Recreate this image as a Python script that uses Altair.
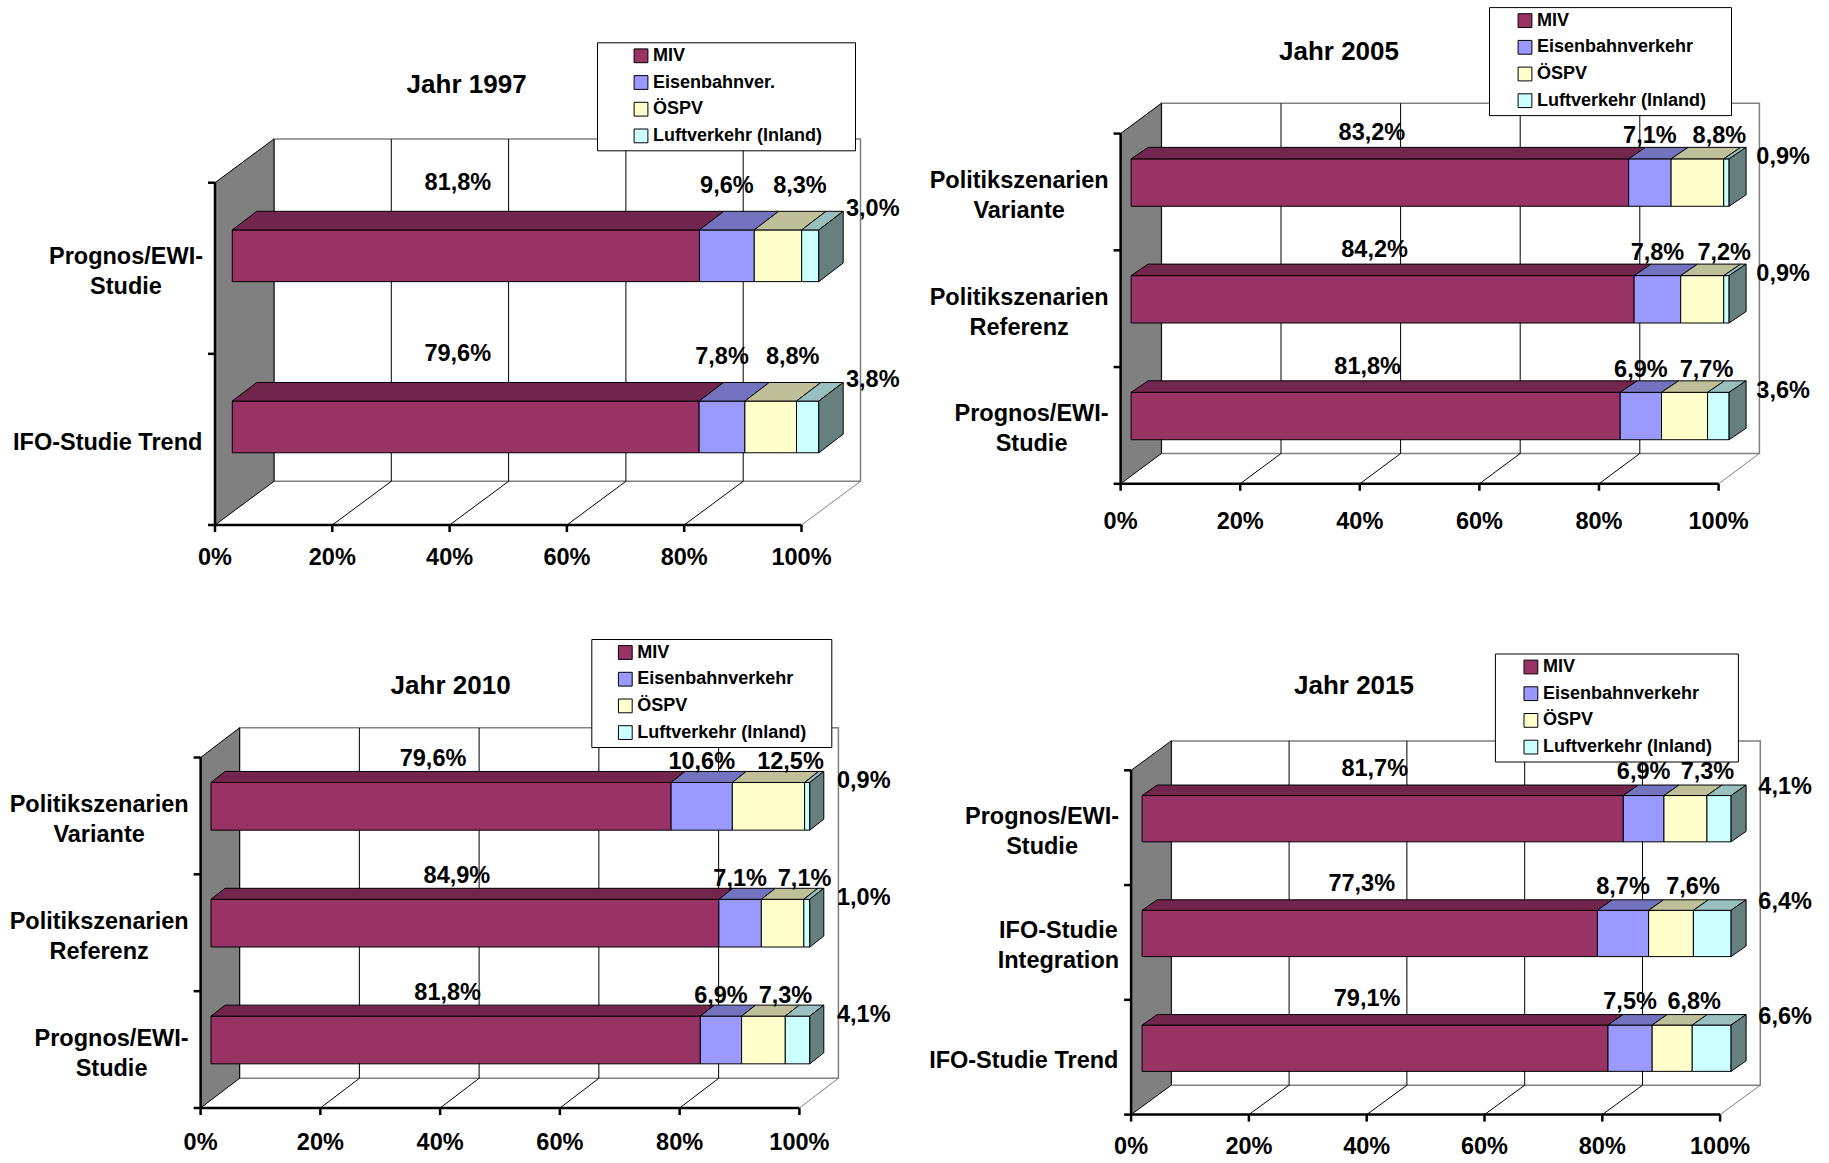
import altair as alt
import pandas as pd

FONT = "Liberation Sans"

# ---------------- data ----------------
titles = ["Jahr 1997", "Jahr 2005", "Jahr 2010", "Jahr 2015"]

names_1997 = ["MIV", "Eisenbahnver.", "ÖSPV", "Luftverkehr (Inland)"]
names_std = ["MIV", "Eisenbahnverkehr", "ÖSPV", "Luftverkehr (Inland)"]

cat_1997 = ["Prognos/EWI-\nStudie", "IFO-Studie Trend"]
miv_1997 = [81.8, 79.6]
eis_1997 = [9.6, 7.8]
oes_1997 = [8.3, 8.8]
luft_1997 = [3.0, 3.8]

cat_2005 = ["Politikszenarien\nVariante", "Politikszenarien\nReferenz", "Prognos/EWI-\nStudie"]
miv_2005 = [83.2, 84.2, 81.8]
eis_2005 = [7.1, 7.8, 6.9]
oes_2005 = [8.8, 7.2, 7.7]
luft_2005 = [0.9, 0.9, 3.6]

cat_2010 = ["Politikszenarien\nVariante", "Politikszenarien\nReferenz", "Prognos/EWI-\nStudie"]
miv_2010 = [79.6, 84.9, 81.8]
eis_2010 = [10.6, 7.1, 6.9]
oes_2010 = [12.5, 7.1, 7.3]
luft_2010 = [0.9, 1.0, 4.1]

cat_2015 = ["Prognos/EWI-\nStudie", "IFO-Studie\nIntegration", "IFO-Studie Trend"]
miv_2015 = [81.7, 77.3, 79.1]
eis_2015 = [6.9, 8.7, 7.5]
oes_2015 = [7.3, 7.6, 6.8]
luft_2015 = [4.1, 6.4, 6.6]

tick_values = [0, 20, 40, 60, 80, 100]
tick_labels = ["0%", "20%", "40%", "60%", "80%", "100%"]

# ---------------- styles ----------------
FRONT = ["#993366", "#9999FF", "#FFFFCC", "#CCFFFF"]
TOP = ["#73264D", "#7373BF", "#BFBF99", "#99BFBF"]
SIDE = "#668080"
WALL = "#808080"
EDGE = "#808080"

LABEL_DX = [-8, 0, 22]        # px shift of value labels vs. segment centre
LABEL_UP = [3, 0, 0]          # extra px lift per series
FS = 23.5
LH = 30                       # line height of category labels
LEG_PAD = 4.5

# Arial/Liberation Sans bold advance widths (1/1000 em)
AW = {"P": 667, "r": 389, "o": 611, "g": 611, "n": 611, "s": 556, "/": 278, "E": 667,
      "W": 944, "I": 278, "-": 333, "S": 667, "t": 333, "u": 611, "d": 611, "i": 278,
      "e": 556, "F": 611, "O": 778, "T": 611, " ": 278, "l": 278, "k": 556, "z": 500,
      "a": 556, "V": 667, "R": 722, "f": 333}


def text_w(s, size):
    return max(sum(AW.get(ch, 600) for ch in line) for line in s.split("\n")) / 1000 * size


# panel geometry (pixels, local to each quadrant)
GEOM = [
    dict(QW=914, QH=581, L=215.0, B=525.0, W=586.5, H=342.3, wall=(59, 43.7), off=(17.3, 12.5),
         barh=51.7, depth=(24.4, 18.6), title=(466.6, 85.2), leg=(597, 42.3), legl=35, legr=33,
         lift=25, luft=-2, tdy=33),
    dict(QW=915, QH=581, L=206.6, B=483.8, W=598.0, H=350.2, wall=(40.8, 30.3), off=(10.5, 9.4),
         barh=47.4, depth=(17, 11.5), title=(425.0, 51.5), leg=(575, 7.1), legl=27, legr=25,
         lift=11, luft=10, tdy=38),
    dict(QW=914, QH=582, L=200.6, B=527.0, W=598.8, H=350.5, wall=(39, 29.7), off=(10.4, 9.6),
         barh=47.7, depth=(14, 11), title=(450.6, 104.6), leg=(591.3, 58), legl=25, legr=25,
         lift=9, luft=10, tdy=35),
    dict(QW=915, QH=582, L=217.1, B=533.6, W=589.0, H=344.3, wall=(40.2, 29.4), off=(11, 9),
         barh=46.3, depth=(15, 10.5), title=(440.0, 104.6), leg=(580.9, 72.5), legl=27, legr=26,
         lift=13, luft=2, tdy=32),
]


def make_panel(title, cats, series_vals, names, g):
    n = len(cats)
    sx = 100.0 / g["W"]
    sy = n / g["H"]
    xs = alt.Scale(domain=[-g["L"] * sx, (g["QW"] - g["L"]) * sx], nice=False, zero=False)
    ys = alt.Scale(domain=[-(g["QH"] - g["B"]) * sy, g["B"] * sy], nice=False, zero=False)

    def X(f):
        return alt.X(f, type="quantitative", scale=xs, axis=None)

    def Y(f):
        return alt.Y(f, type="quantitative", scale=ys, axis=None)

    wdx, wdy = g["wall"][0] * sx, g["wall"][1] * sy

    back = pd.DataFrame([dict(x=wdx, x2=100 + wdx, y=wdy, y2=n + wdy)])
    grid = pd.DataFrame([dict(x=t + wdx, y=wdy, y2=n + wdy) for t in tick_values[1:-1]])
    wall = pd.DataFrame([dict(x=0, y=0, y2=n), dict(x=wdx, y=wdy, y2=n + wdy)])
    floor = pd.DataFrame([dict(x=t, x2=t + wdx, y=0, y2=wdy, c=("black" if t < 100 else EDGE))
                          for t in tick_values[1:]])

    ox, oy = g["off"][0] * sx, g["off"][1] * sy
    ddx, ddy = g["depth"][0] * sx, g["depth"][1] * sy
    hh = g["barh"] / 2 * sy

    front, top, side, labs, catl = [], [], [], [], []
    for i, cat in enumerate(cats):
        c = n - i - 0.5
        yc = c + oy
        y0, y1 = yc - hh, yc + hh
        vals = [s[i] for s in series_vals]
        tot = sum(vals)
        cum = 0.0
        for k, v in enumerate(vals):
            s = cum / tot * 100
            cum += v
            e = cum / tot * 100
            front.append(dict(series=names[k], x=ox + s, x2=ox + e, y=y0, y2=y1))
            fid = f"{i}-{k}"
            top.append(dict(face=fid, col=TOP[k], y=y1, x=ox + s, x2=ox + e))
            top.append(dict(face=fid, col=TOP[k], y=y1 + ddy, x=ox + s + ddx, x2=ox + e + ddx))
            txt = f"{v:.1f}".replace(".", ",") + "%"
            if k < 3:
                lx = ox + (s + e) / 2 + LABEL_DX[k] * sx
                ly = y1 + ddy + (g["lift"] + LABEL_UP[k]) * sy
            else:
                lx = ox + 100 + 54 * sx
                ly = y1 + ddy - g["luft"] * sy
            labs.append(dict(x=lx, y=ly, t=txt))
        side.append(dict(face=str(i), x=ox + 100, y=y0, y2=y1))
        side.append(dict(face=str(i), x=ox + 100 + ddx, y=y0 + ddy, y2=y1 + ddy))
        nlines = cat.count("\n") + 1
        catl.append(dict(x=-(12 + text_w(cat, FS) / 2) * sx,
                         y=c + (nlines - 1) * LH / 2 * sy, t=cat))

    axes = pd.DataFrame([dict(x=0, x2=100, y=0, y2=0), dict(x=0, x2=0, y=0, y2=n)])
    ticks = pd.DataFrame([dict(x=t, x2=t, y=0, y2=-7 * sy) for t in tick_values] +
                         [dict(x=0, x2=-7 * sx, y=j, y2=j) for j in range(n + 1)])
    tlab = pd.DataFrame([dict(x=t, y=0, t=l) for t, l in zip(tick_values, tick_labels)])

    left_extra = g["legl"] - LEG_PAD
    legend = alt.Legend(
        orient="none", legendX=g["leg"][0], legendY=g["leg"][1],
        title=" ", titleOrient="right", titleFontSize=1,
        titlePadding=g["legr"] - LEG_PAD - 0.5,
        padding=LEG_PAD, strokeColor="black", fillColor="white",
        symbolType="square", symbolSize=190, symbolStrokeColor="black", symbolStrokeWidth=1,
        symbolOpacity=1, symbolOffset=left_extra,
        labelFont=FONT, labelFontWeight="bold", labelFontSize=18, labelColor="black",
        labelLimit=500, labelOffset=3, rowPadding=8.7,
    )

    layers = [
        alt.Chart(back).mark_rect(fill="white", stroke=EDGE, strokeWidth=1.5).encode(
            x=X("x"), x2="x2", y=Y("y"), y2="y2"),
        alt.Chart(grid).mark_rule(color="black", strokeWidth=1).encode(
            x=X("x"), y=Y("y"), y2="y2"),
        alt.Chart(wall).mark_area(fill=WALL, stroke="black", strokeWidth=1, opacity=1).encode(
            x=X("x"), y=Y("y"), y2="y2"),
        alt.Chart(floor).mark_rule(strokeWidth=1).encode(
            x=X("x"), x2="x2", y=Y("y"), y2="y2", color=alt.Color("c:N", scale=None)),
        alt.Chart(pd.DataFrame(front)).mark_rect(stroke="black", strokeWidth=1, opacity=1).encode(
            x=X("x"), x2="x2", y=Y("y"), y2="y2",
            color=alt.Color("series:N", scale=alt.Scale(domain=names, range=FRONT),
                            sort=names, legend=legend)),
        alt.Chart(pd.DataFrame(top)).mark_area(orient="horizontal", stroke="black",
                                               strokeWidth=1, opacity=1).encode(
            y=Y("y"), x=X("x"), x2="x2", fill=alt.Fill("col:N", scale=None),
            detail="face:N"),
        alt.Chart(pd.DataFrame(side)).mark_area(fill=SIDE, stroke="black", strokeWidth=1,
                                                opacity=1).encode(
            x=X("x"), y=Y("y"), y2="y2", detail="face:N"),
        alt.Chart(axes).mark_rule(color="black", strokeWidth=2.5).encode(
            x=X("x"), x2="x2", y=Y("y"), y2="y2"),
        alt.Chart(ticks).mark_rule(color="black", strokeWidth=2.5).encode(
            x=X("x"), x2="x2", y=Y("y"), y2="y2"),
        alt.Chart(pd.DataFrame(labs)).mark_text(
            font=FONT, fontWeight="bold", fontSize=FS, color="black",
            align="center", baseline="middle").encode(
            x=X("x"), y=Y("y"), text="t:N"),
        alt.Chart(tlab).mark_text(
            font=FONT, fontWeight="bold", fontSize=FS, color="black",
            align="center", baseline="middle", dy=g["tdy"]).encode(
            x=X("x"), y=Y("y"), text="t:N"),
        alt.Chart(pd.DataFrame(catl)).mark_text(
            font=FONT, fontWeight="bold", fontSize=FS, color="black",
            align="center", baseline="middle", lineBreak="\n", lineHeight=LH, dy=4).encode(
            x=X("x"), y=Y("y"), text="t:N"),
        alt.Chart(pd.DataFrame([dict(t=title)])).mark_text(
            font=FONT, fontWeight="bold", fontSize=26, color="black",
            align="center", baseline="middle").encode(
            x=alt.value(g["title"][0]), y=alt.value(g["title"][1]), text="t:N"),
    ]
    return alt.layer(*layers).properties(width=g["QW"], height=g["QH"])


panels = [
    make_panel(titles[0], cat_1997, [miv_1997, eis_1997, oes_1997, luft_1997], names_1997, GEOM[0]),
    make_panel(titles[1], cat_2005, [miv_2005, eis_2005, oes_2005, luft_2005], names_std, GEOM[1]),
    make_panel(titles[2], cat_2010, [miv_2010, eis_2010, oes_2010, luft_2010], names_std, GEOM[2]),
    make_panel(titles[3], cat_2015, [miv_2015, eis_2015, oes_2015, luft_2015], names_std, GEOM[3]),
]

chart = (
    alt.concat(*panels, columns=2, spacing=0, bounds="flush")
    .resolve_scale(color="independent", x="independent", y="independent")
    .resolve_legend(color="independent")
    .properties(padding=0, background="white")
    .configure_view(stroke=None)
)

chart.save("out.html", embed_options={"renderer": "svg", "actions": False})
